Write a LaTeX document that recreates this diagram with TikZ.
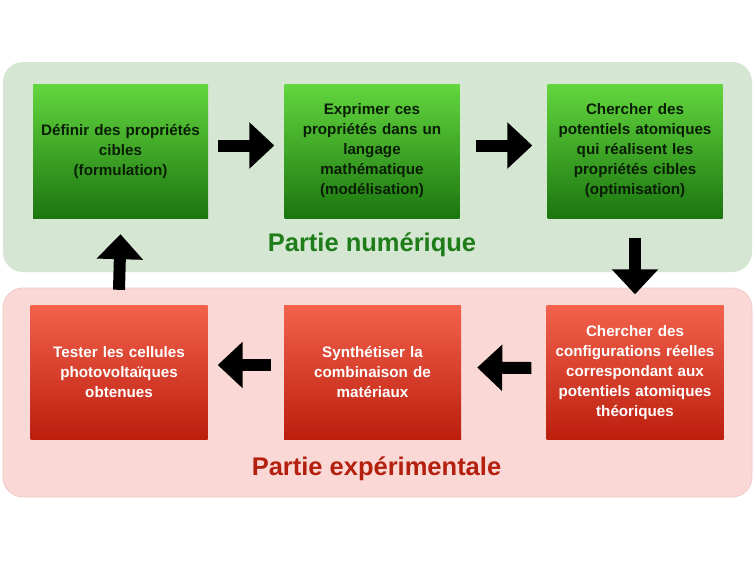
\documentclass[tikz,border=0pt]{standalone}
\usepackage{fontspec}
\setmainfont{Liberation Sans}
\usetikzlibrary{arrows.meta,shadings}
\definecolor{gpanel}{RGB}{213,230,211}
\definecolor{rpanel}{RGB}{250,216,214}
\definecolor{rpanelb}{RGB}{240,200,198}
\definecolor{gtop}{RGB}{98,214,62}
\definecolor{gbot}{RGB}{28,118,16}
\definecolor{rtop}{RGB}{242,98,76}
\definecolor{rbot}{RGB}{188,30,14}
\definecolor{gtitle}{RGB}{30,125,24}
\definecolor{rtitle}{RGB}{180,32,14}
\definecolor{gtext}{RGB}{10,30,5}
\tikzset{
  gbox/.style={rectangle, minimum width=175pt, minimum height=134pt, inner sep=0pt,
    top color=gtop, bottom color=gbot, text=gtext, align=center,
    text width=172pt, font=\bfseries\fontsize{15.2}{20}\selectfont},
  rbox/.style={rectangle, minimum width=177pt, minimum height=134pt, inner sep=0pt,
    top color=rtop, bottom color=rbot, text=white, align=center,
    text width=174pt, font=\bfseries\fontsize{15.2}{20}\selectfont},
  blockarrow/.style={line width=12pt, black, -{Triangle[width=45pt,length=25pt]}},
  title/.style={font=\bfseries\fontsize{25.5}{28}\selectfont, inner sep=0pt}
}
\begin{document}
\begin{tikzpicture}[x=1pt,y=-1pt]
\useasboundingbox (0,0) rectangle (754,566);
\fill[white] (0,0) rectangle (754,566);
% panels
\fill[gpanel, rounded corners=20pt] (3,62) rectangle (752,272);
\filldraw[fill=rpanel, draw=rpanelb, line width=0.8pt, rounded corners=20pt] (3,288) rectangle (752,497);
% boxes
\node[gbox] (b1) at (120.5,151) {Définir des propriétés\\cibles\\(formulation)};
\node[gbox] (b2) at (372,151) {Exprimer ces\\propriétés dans un\\langage\\mathématique\\(modélisation)};
\node[gbox] (b3) at (635,151) {Chercher des\\potentiels atomiques\\qui réalisent les\\propriétés cibles\\(optimisation)};
\node[rbox] (b4) at (119,372) {Tester les cellules\\photovoltaïques\\obtenues};
\node[rbox] (b5) at (372.5,372) {Synthétiser la\\combinaison de\\matériaux};
\node[rbox] (b6) at (635,372.5) {Chercher des\\configurations réelles\\correspondant aux\\potentiels atomiques\\théoriques};
% titles
\node[title, text=gtitle] (t1) at (372,245) {Partie numérique};
\node[title, text=rtitle] (t2) at (376.5,469) {Partie expérimentale};
% arrows
\draw[blockarrow] ([xshift=10pt,yshift=5.5pt]b1.east) -- ([xshift=-10pt,yshift=5.5pt]b2.west);
\draw[blockarrow] ([xshift=16pt,yshift=5.5pt]b2.east) -- ([xshift=-15pt,yshift=5.5pt]b3.west);
\draw[blockarrow] ([yshift=-20pt]b3.south) -- ([yshift=11pt]b6.north);
\draw[blockarrow] ([xshift=-15pt,yshift=4.5pt]b6.west) -- ([xshift=16pt,yshift=4.5pt]b5.east);
\draw[blockarrow] ([xshift=-13pt,yshift=7pt]b5.west) -- ([xshift=10pt,yshift=7pt]b4.east);
\draw[blockarrow] ([yshift=15pt]b4.north) -- ([yshift=-16pt]b1.south);
\end{tikzpicture}
\end{document}
